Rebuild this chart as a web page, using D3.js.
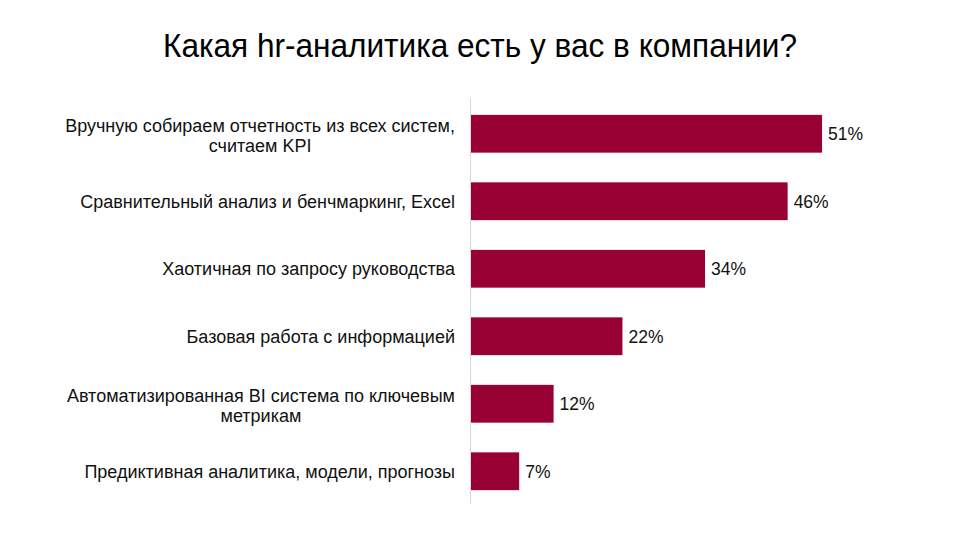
<!DOCTYPE html>
<html>
<head>
<meta charset="utf-8">
<script src="https://cdn.jsdelivr.net/npm/d3@7"></script>
<style>
  html, body { margin: 0; padding: 0; background: #fff; }
  svg { display: block; font-family: "Liberation Sans", Arial, sans-serif; }
</style>
</head>
<body>
<svg id="chart" width="960" height="540"></svg>
<script>
// chart data
var title = 'Какая hr-аналитика есть у вас в компании?';
var categories = [
  ['Вручную собираем отчетность из всех систем,', 'считаем KPI'],
  ['Сравнительный анализ и бенчмаркинг, Excel'],
  ['Хаотичная по запросу руководства'],
  ['Базовая работа с информацией'],
  ['Автоматизированная BI система по ключевым', 'метрикам'],
  ['Предиктивная аналитика, модели, прогнозы']
];
var values = [51, 46, 34, 22, 12, 7];

var svg = d3.select('#chart');
var barColor = '#990033';

// title
var t = svg.append('text')
  .attr('x', 480)
  .attr('y', 57)
  .attr('text-anchor', 'middle')
  .attr('font-size', 33)
  .attr('fill', '#000')
  .text(title);
// reference title is a bit condensed
if (t.node().getComputedTextLength() > 636) {
  t.attr('textLength', 634).attr('lengthAdjust', 'spacingAndGlyphs');
}

var x = d3.scaleLinear().domain([0, 60]).range([471, 884]);
var y = d3.scaleBand()
  .domain(d3.range(values.length))
  .range([100, 505])
  .paddingInner(0.44)
  .paddingOuter(0.22);

// bars
svg.append('g').selectAll('rect')
  .data(values)
  .enter().append('rect')
  .attr('x', x(0))
  .attr('y', function(d, i){ return y(i); })
  .attr('width', function(d){ return x(d) - x(0); })
  .attr('height', y.bandwidth())
  .attr('fill', barColor);

// vertical axis line
svg.append('line')
  .attr('x1', x(0) - 0.5).attr('x2', x(0) - 0.5)
  .attr('y1', 98).attr('y2', 504)
  .attr('stroke', '#d9d9d9')
  .attr('stroke-width', 1);

// value labels
svg.append('g').selectAll('text')
  .data(values)
  .enter().append('text')
  .attr('x', function(d){ return x(d) + 6; })
  .attr('y', function(d, i){ return y(i) + y.bandwidth() / 2; })
  .attr('dy', '0.36em')
  .attr('font-size', 17.5)
  .attr('fill', '#111')
  .text(function(d){ return d + '%'; });

// category labels (multi-line ones are centered in their block)
var lineH = 20;
var lbl = svg.append('g').selectAll('g')
  .data(categories)
  .enter().append('g')
  .attr('transform', function(d, i){
    var off = d.length > 1 ? 2 : 0;
    return 'translate(0,' + (y(i) + y.bandwidth() / 2 + off) + ')';
  });

lbl.each(function(lines){
  var g = d3.select(this);
  var txt = g.append('text')
    .attr('font-size', 18)
    .attr('fill', '#111');
  lines.forEach(function(s, k){
    txt.append('tspan')
      .attr('x', 0)
      .attr('y', (k - (lines.length - 1) / 2) * lineH)
      .attr('dy', '0.36em')
      .text(s);
  });
  // right-align the block at x=455, center lines within it
  var spans = txt.selectAll('tspan').nodes();
  var w = d3.max(spans, function(n){ return n.getComputedTextLength(); });
  spans.forEach(function(n){
    var lw = n.getComputedTextLength();
    d3.select(n).attr('x', 455 - w + (w - lw) / 2);
  });
});
</script>
</body>
</html>
